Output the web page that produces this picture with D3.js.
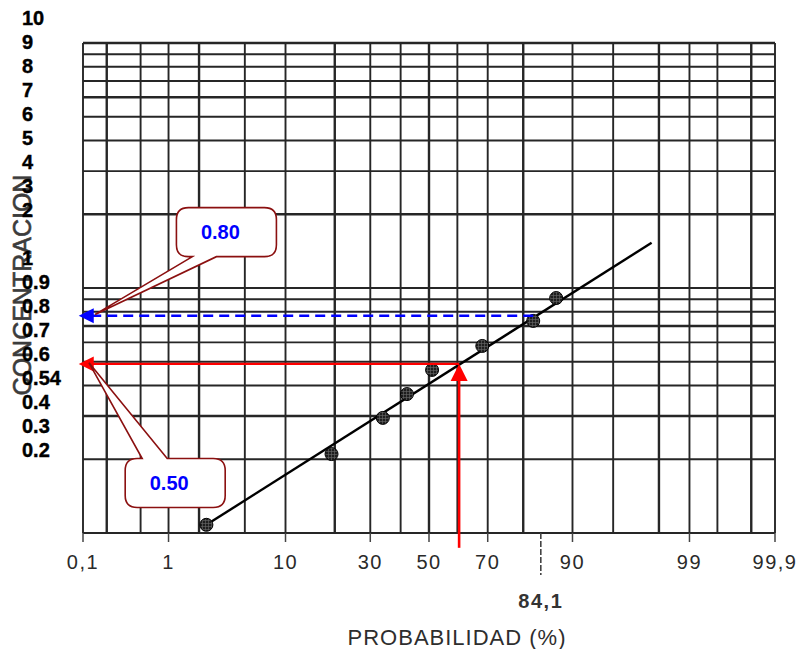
<!DOCTYPE html>
<html>
<head>
<meta charset="utf-8">
<script src="https://cdn.jsdelivr.net/npm/d3@7"></script>
<style>
  body { margin: 0; background: #fff; }
  svg { display: block; font-family: "Liberation Sans", Arial, sans-serif; }
</style>
</head>
<body>
<div id="chart"></div>
<script>
// measured points (probability %, concentration)
var probs = [2.34, 19.2, 34, 42.2, 51.1, 68.3, 82.4, 87.2],
	concs = [0.108, 0.21, 0.295, 0.369, 0.463, 0.58, 0.734, 0.91];

// fitted line end points
var fitProbs = [2.34, 97.66],
	fitConcs = [0.108, 1.53];

// probability paper grid
var gridProbs = [0.1, 0.2, 0.5, 1, 2, 5, 10, 20, 30, 40, 50, 60, 70, 80, 90, 95, 98, 99, 99.5, 99.8, 99.9],
	gridConcs = [0.1, 0.2, 0.3, 0.4, 0.5, 0.6, 0.7, 0.8, 0.9, 1, 2, 3, 4, 5, 6, 7, 8, 9, 10];

var xTickValues = [0.1, 1, 10, 30, 50, 70, 90, 99, 99.9],
	xTickLabels = ["0,1", "1", "10", "30", "50", "70", "90", "99", "99,9"];

// left column of labels (slot 9 left empty)
var yLabels = ["10", "9", "8", "7", "6", "5", "4", "3", "2", "1", "0.9", "0.8", "0.7", "0.6", "0.54", "0.4", "0.3", "0.2"],
	yLabelSlots = [0, 1, 2, 3, 4, 5, 6, 7, 8, 10, 11, 12, 13, 14, 15, 16, 17, 18];

// reading annotations
var blueConc = 0.77, blueFromProb = 82.4,
	redConc = 0.49, redProb = 60.6, redFromConc = 0.087,
	arrowTipProb = 0.088;

var callouts = [
	{ text: "0.80", prob: 3.52, conc: 1.69, tailTo: [0.12, 0.78], tailSide: "bottom" },
	{ text: "0.50", prob: 1.17, conc: 0.16, tailTo: [0.1, 0.495], tailSide: "top" }
];

function probit(p) {
	var a = [-39.69683028665376, 220.9460984245205, -275.9285104469687, 138.357751867269, -30.66479806614716, 2.506628277459239],
		b = [-54.47609879822406, 161.5858368580409, -155.6989798598866, 66.80131188771972, -13.28068155288572],
		c = [-0.007784894002430293, -0.3223964580411365, -2.400758277161838, -2.549732539343734, 4.374664141464968, 2.938163982698783],
		d = [0.007784695709041462, 0.3224671290700398, 2.445134137142996, 3.754408661907416],
		pl = 0.02425, q, r;
	if (p < pl) {
		q = Math.sqrt(-2 * Math.log(p));
		return (((((c[0]*q+c[1])*q+c[2])*q+c[3])*q+c[4])*q+c[5]) / ((((d[0]*q+d[1])*q+d[2])*q+d[3])*q+1);
	}
	if (p <= 1 - pl) {
		q = p - 0.5; r = q * q;
		return (((((a[0]*r+a[1])*r+a[2])*r+a[3])*r+a[4])*r+a[5])*q / (((((b[0]*r+b[1])*r+b[2])*r+b[3])*r+b[4])*r+1);
	}
	q = Math.sqrt(-2 * Math.log(1 - p));
	return -(((((c[0]*q+c[1])*q+c[2])*q+c[3])*q+c[4])*q+c[5]) / ((((d[0]*q+d[1])*q+d[2])*q+d[3])*q+1);
}

var width = 798,
	height = 649,
	z = d3.scaleLinear().domain([probit(0.001), probit(0.999)]).range([83, 775]),
	x = function(p) { return z(probit(p / 100)); },
	y = d3.scaleLog().domain([0.1, 10]).range([533, 43]),
	slot = d3.scaleLinear().domain([0, 1]).range([25, 49]);

var svg = d3.select('#chart').append('svg')
	.attr('width', width)
	.attr('height', height);

var defs = svg.append('defs');
var pat = defs.append('pattern')
	.attr('id', 'dot')
	.attr('width', 3).attr('height', 3)
	.attr('patternUnits', 'userSpaceOnUse');
pat.append('rect').attr('width', 3).attr('height', 3).attr('fill', '#1e1e1e');
pat.append('path').attr('d', 'M0,1.5H3M1.5,0V3').attr('stroke', '#6a6a6a').attr('stroke-width', 0.6);

var grid = svg.append('g');

grid.selectAll('line.v')
	.data(gridProbs)
	.enter().append('line')
	.attr('class', 'v')
	.attr('x1', function(d) { return x(d); })
	.attr('x2', function(d) { return x(d); })
	.attr('y1', y(10))
	.attr('y2', y(0.1))
	.style('stroke', '#262626')
	.style('stroke-width', function(d, i) { return i % 3 == 1 ? 2.4 : 1.9; });

grid.selectAll('line.h')
	.data(gridConcs)
	.enter().append('line')
	.attr('class', 'h')
	.attr('x1', x(0.1))
	.attr('x2', x(99.9))
	.attr('y1', function(d) { return y(d); })
	.attr('y2', function(d) { return y(d); })
	.style('stroke', '#262626')
	.style('stroke-width', function(d, i) { return i % 4 == 2 ? 2.5 : 1.9; });

// bottom axis ticks
var axis = svg.append('g');
axis.selectAll('line.tick')
	.data(xTickValues)
	.enter().append('line')
	.attr('x1', function(d) { return x(d); })
	.attr('x2', function(d) { return x(d); })
	.attr('y1', y(0.1))
	.attr('y2', y(0.1) + 9)
	.style('stroke', '#444')
	.style('stroke-width', 1.5);

axis.selectAll('text.tick')
	.data(xTickValues)
	.enter().append('text')
	.attr('x', function(d) { return x(d); })
	.attr('y', 569)
	.attr('text-anchor', 'middle')
	.style('font-size', '20px')
	.style('letter-spacing', '1.5px')
	.style('fill', '#2a2a2a')
	.text(function(d, i) { return xTickLabels[i]; });

axis.append('line')
	.attr('x1', x(84.1)).attr('x2', x(84.1))
	.attr('y1', y(0.1)).attr('y2', y(0.1) + 42)
	.style('stroke', '#444')
	.style('stroke-width', 1.6)
	.style('stroke-dasharray', '6,2');

axis.append('text')
	.attr('x', x(84.1))
	.attr('y', 608)
	.attr('text-anchor', 'middle')
	.style('font-size', '20px')
	.style('font-weight', 'bold')
	.style('letter-spacing', '1.5px')
	.style('fill', '#333')
	.text('84,1');

svg.append('text')
	.attr('x', 457)
	.attr('y', 645)
	.attr('text-anchor', 'middle')
	.style('font-size', '22px')
	.style('letter-spacing', '1px')
	.style('fill', '#2e2e2e')
	.text('PROBABILIDAD (%)');

svg.append('text')
	.attr('transform', 'translate(31,285) rotate(-90)')
	.attr('text-anchor', 'middle')
	.style('font-size', '25px')
	.style('fill', '#3c3c3c')
	.style('stroke', '#3c3c3c')
	.style('stroke-width', 0.6)
	.text('CONCENTRACION');

svg.selectAll('text.ylab')
	.data(yLabels)
	.enter().append('text')
	.attr('x', 22)
	.attr('y', function(d, i) { return slot(yLabelSlots[i]); })
	.style('font-size', '20px')
	.style('font-weight', 'bold')
	.style('fill', '#000')
	.style('stroke', '#000')
	.style('stroke-width', 0.4)
	.text(function(d) { return d; });

// fitted line and points
svg.append('line')
	.attr('x1', x(fitProbs[0])).attr('y1', y(fitConcs[0]))
	.attr('x2', x(fitProbs[1])).attr('y2', y(fitConcs[1]))
	.style('stroke', '#000')
	.style('stroke-width', 2.4);

svg.selectAll('circle')
	.data(probs)
	.enter().append('circle')
	.attr('cx', function(d) { return x(d); })
	.attr('cy', function(d, i) { return y(concs[i]); })
	.attr('r', 6.5)
	.style('fill', 'url(#dot)')
	.style('stroke', '#000')
	.style('stroke-width', 1);

// arrows
function arrowHead(tx, ty, dir, color) {
	var L = 15, W = 7.5, p;
	if (dir == 'left') p = [[tx, ty], [tx + L, ty - W], [tx + L, ty + W]];
	else p = [[tx, ty], [tx - W - 1, ty + L + 2], [tx + W + 1, ty + L + 2]];
	svg.append('path')
		.attr('d', 'M' + p.join('L') + 'Z')
		.style('fill', color);
}

svg.append('line')
	.attr('x1', x(blueFromProb)).attr('y1', y(blueConc))
	.attr('x2', x(arrowTipProb) + 10).attr('y2', y(blueConc))
	.style('stroke', '#0000ff')
	.style('stroke-width', 2.6)
	.style('stroke-dasharray', '10,6');
arrowHead(x(arrowTipProb), y(blueConc), 'left', '#0000ff');

svg.append('line')
	.attr('x1', x(redProb)).attr('y1', y(redFromConc))
	.attr('x2', x(redProb)).attr('y2', y(redConc) + 10)
	.style('stroke', '#ff0000')
	.style('stroke-width', 2.6);
svg.append('line')
	.attr('x1', x(redProb)).attr('y1', y(redConc))
	.attr('x2', x(arrowTipProb) + 10).attr('y2', y(redConc))
	.style('stroke', '#ff0000')
	.style('stroke-width', 2.3);
arrowHead(x(redProb), y(redConc), 'up', '#ff0000');
arrowHead(x(arrowTipProb), y(redConc), 'left', '#ff0000');

// callouts
callouts.forEach(function(c) {
	var cx = x(c.prob), cy = y(c.conc),
		w = 100, h = 49, r = 12,
		x0 = cx - w / 2, x1 = cx + w / 2, y0 = cy - h / 2, y1 = cy + h / 2,
		tx = x(c.tailTo[0]) + 6, ty = y(c.tailTo[1]),
		d;
	if (c.tailSide == 'bottom') {
		d = 'M' + (x0 + r) + ',' + y0 + 'H' + (x1 - r) + 'Q' + x1 + ',' + y0 + ' ' + x1 + ',' + (y0 + r) +
			'V' + (y1 - r) + 'Q' + x1 + ',' + y1 + ' ' + (x1 - r) + ',' + y1 +
			'H' + (x0 + 40) + 'L' + tx + ',' + ty + 'L' + (x0 + 16) + ',' + y1 +
			'H' + (x0 + r) + 'Q' + x0 + ',' + y1 + ' ' + x0 + ',' + (y1 - r) +
			'V' + (y0 + r) + 'Q' + x0 + ',' + y0 + ' ' + (x0 + r) + ',' + y0 + 'Z';
	} else {
		d = 'M' + (x0 + r) + ',' + y0 + 'H' + (x0 + 17) + 'L' + tx + ',' + ty + 'L' + (x0 + 42) + ',' + y0 +
			'H' + (x1 - r) + 'Q' + x1 + ',' + y0 + ' ' + x1 + ',' + (y0 + r) +
			'V' + (y1 - r) + 'Q' + x1 + ',' + y1 + ' ' + (x1 - r) + ',' + y1 +
			'H' + (x0 + r) + 'Q' + x0 + ',' + y1 + ' ' + x0 + ',' + (y1 - r) +
			'V' + (y0 + r) + 'Q' + x0 + ',' + y0 + ' ' + (x0 + r) + ',' + y0 + 'Z';
	}
	svg.append('path')
		.attr('d', d)
		.style('fill', '#fff')
		.style('stroke', '#8b1010')
		.style('stroke-width', 1.6);
	svg.append('text')
		.attr('x', cx - 6)
		.attr('y', cy + 7)
		.attr('text-anchor', 'middle')
		.style('font-size', '20px')
		.style('font-weight', 'bold')
		.style('fill', '#0000ff')
		.text(c.text);
});
</script>
</body>
</html>
